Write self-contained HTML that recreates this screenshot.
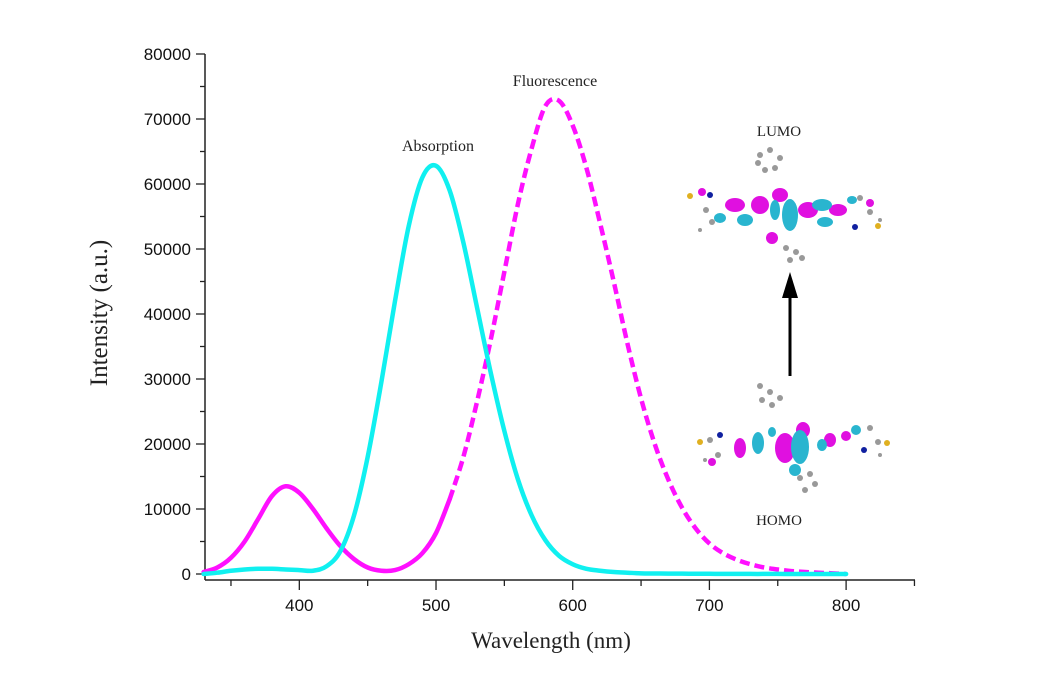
<!DOCTYPE html>
<html><head><meta charset="utf-8"><style>
html,body{margin:0;padding:0;background:#fff;}
svg{display:block;}
.tick{font-family:"Liberation Sans",sans-serif;font-size:17px;fill:#111;}
.ser{font-family:"Liberation Serif",serif;fill:#222;}
</style></head><body>
<svg id="chart" width="1044" height="685" viewBox="0 0 1044 685" xmlns="http://www.w3.org/2000/svg">
<g id="axes"></g>
<g id="series"></g>
<text class="ser" x="438" y="151" font-size="16" text-anchor="middle">Absorption</text>
<text class="ser" x="555" y="86" font-size="16" text-anchor="middle">Fluorescence</text>
<text class="ser" x="0" y="0" font-size="25" text-anchor="middle" transform="translate(107,313) rotate(-90)">Intensity (a.u.)</text>
<text class="ser" x="551" y="648" font-size="23" text-anchor="middle">Wavelength (nm)</text>
<g id="inset">
<text class="ser" x="779" y="136" font-size="15" text-anchor="middle">LUMO</text>
<text class="ser" x="779" y="525" font-size="15" text-anchor="middle">HOMO</text>
<g>
<g fill="#999"><circle cx="760" cy="155" r="3"/><circle cx="770" cy="150" r="3"/><circle cx="780" cy="158" r="3"/><circle cx="775" cy="168" r="3"/><circle cx="765" cy="170" r="3"/><circle cx="758" cy="163" r="3"/>
<circle cx="786" cy="248" r="3"/><circle cx="796" cy="252" r="3"/><circle cx="802" cy="258" r="3"/><circle cx="790" cy="260" r="3"/><circle cx="706" cy="210" r="3"/><circle cx="712" cy="222" r="3"/><circle cx="860" cy="198" r="3"/><circle cx="870" cy="212" r="3"/><circle cx="700" cy="230" r="2"/><circle cx="880" cy="220" r="2"/></g>
<g fill="#e010e0"><ellipse cx="735" cy="205" rx="10" ry="7"/><ellipse cx="760" cy="205" rx="9" ry="9"/><ellipse cx="780" cy="195" rx="8" ry="7"/><ellipse cx="808" cy="210" rx="10" ry="8"/><ellipse cx="838" cy="210" rx="9" ry="6"/><ellipse cx="772" cy="238" rx="6" ry="6"/><ellipse cx="702" cy="192" rx="4" ry="4"/><ellipse cx="870" cy="203" rx="4" ry="4"/></g>
<g fill="#29b5cf"><ellipse cx="745" cy="220" rx="8" ry="6"/><ellipse cx="790" cy="215" rx="8" ry="16"/><ellipse cx="775" cy="210" rx="5" ry="10"/><ellipse cx="822" cy="205" rx="10" ry="6"/><ellipse cx="825" cy="222" rx="8" ry="5"/><ellipse cx="720" cy="218" rx="6" ry="5"/><ellipse cx="852" cy="200" rx="5" ry="4"/></g>
<circle cx="690" cy="196" r="3" fill="#e0b020"/><circle cx="878" cy="226" r="3" fill="#e0b020"/><circle cx="710" cy="195" r="3" fill="#1020a0"/><circle cx="855" cy="227" r="3" fill="#1020a0"/>
</g>
<g>
<g fill="#999"><circle cx="760" cy="386" r="3"/><circle cx="770" cy="392" r="3"/><circle cx="780" cy="398" r="3"/><circle cx="772" cy="405" r="3"/><circle cx="762" cy="400" r="3"/>
<circle cx="800" cy="478" r="3"/><circle cx="810" cy="474" r="3"/><circle cx="815" cy="484" r="3"/><circle cx="805" cy="490" r="3"/><circle cx="710" cy="440" r="3"/><circle cx="718" cy="455" r="3"/><circle cx="870" cy="428" r="3"/><circle cx="878" cy="442" r="3"/><circle cx="705" cy="460" r="2"/><circle cx="880" cy="455" r="2"/></g>
<g fill="#e010e0"><ellipse cx="740" cy="448" rx="6" ry="10"/><ellipse cx="785" cy="448" rx="10" ry="15"/><ellipse cx="803" cy="430" rx="7" ry="8"/><ellipse cx="830" cy="440" rx="6" ry="7"/><ellipse cx="846" cy="436" rx="5" ry="5"/><ellipse cx="712" cy="462" rx="4" ry="4"/></g>
<g fill="#29b5cf"><ellipse cx="758" cy="443" rx="6" ry="11"/><ellipse cx="800" cy="447" rx="9" ry="17"/><ellipse cx="795" cy="470" rx="6" ry="6"/><ellipse cx="822" cy="445" rx="5" ry="6"/><ellipse cx="856" cy="430" rx="5" ry="5"/><ellipse cx="772" cy="432" rx="4" ry="5"/></g>
<circle cx="700" cy="442" r="3" fill="#e0b020"/><circle cx="887" cy="443" r="3" fill="#e0b020"/><circle cx="720" cy="435" r="3" fill="#1020a0"/><circle cx="864" cy="450" r="3" fill="#1020a0"/>
</g>
<line x1="790" y1="376" x2="790" y2="295" stroke="#000" stroke-width="3"/>
<polygon points="782,298 798,298 790,272" fill="#000"/>
</g>
</svg>
<script>
const wavelengths=[330,340,350,360,370,380,390,400,410,420,430,440,450,460,470,480,490,500,510,520,530,540,550,560,570,580,590,600,610,620,630,640,650,660,670,680,690,700,710,720,730,740,750,760,770,780,790,800];
const absorption=[0,200,500,700,800,800,700,600,500,1200,3500,9000,18000,29500,42000,53500,61000,62800,59000,51000,41000,31000,22000,14500,9000,5200,2800,1500,800,500,300,200,100,80,60,50,40,30,20,20,10,10,10,0,0,0,0,0];
const fluorescence=[300,1000,2500,5000,8500,12000,13500,12500,10000,7000,4300,2300,1000,500,600,1500,3200,6300,11500,18000,26500,36000,46500,57000,65500,72000,72800,69000,62500,54000,45000,35500,27000,20000,14500,10200,7000,4700,3200,2200,1500,1000,700,450,300,200,100,0];
const xTicks=[400,500,600,700,800];
const yTicks=[0,10000,20000,30000,40000,50000,60000,70000,80000];
const NS='http://www.w3.org/2000/svg';
const X0=205,X1=915,XMIN=331,XMAX=850.4,Y0=574,YPX=65/10000,YBASE=580;
function xs(v){return X0+(v-XMIN)*(X1-X0)/(XMAX-XMIN);}
function ys(v){return Y0-v*YPX;}
function mk(tag,attrs,parent){const e=document.createElementNS(NS,tag);for(const k in attrs)e.setAttribute(k,attrs[k]);parent.appendChild(e);return e;}
const ax=document.getElementById('axes');
let l=mk('line',{x1:X0,y1:YBASE,x2:X1,y2:YBASE,stroke:'#222','stroke-width':1.5},ax);


l=mk('line',{x1:X0,y1:YBASE,x2:X0,y2:ys(80000),stroke:'#222','stroke-width':1.5},ax);


for(let v=350;v<=850;v+=50){const x=xs(v);const major=xTicks.includes(v);
 const t=mk('line',{x1:x,y1:YBASE,x2:x,y2:YBASE+(major?10:6),stroke:'#222','stroke-width':1.3},ax);
 
 }
xTicks.forEach(v=>{const t=mk('text',{x:xs(v),y:YBASE+31,'text-anchor':'middle',class:'tick'},ax);t.textContent=v;
 
 });
for(let v=0;v<=80000;v+=5000){const y=ys(v);const major=v%10000===0;
 const t=mk('line',{x1:X0,y1:y,x2:X0-(major?9:5),y2:y,stroke:'#222','stroke-width':1.3},ax);
 
 }
yTicks.forEach(v=>{const t=mk('text',{x:X0-14,y:ys(v)+6,'text-anchor':'end',class:'tick'},ax);t.textContent=v;
 
 });
function pathFrom(xv,yv){const p=xv.map((w,i)=>[xs(w),ys(yv[i])]);let d='M'+p[0][0]+','+p[0][1];
 for(let i=0;i<p.length-1;i++){const a=p[Math.max(0,i-1)],b=p[i],c=p[i+1],e=p[Math.min(p.length-1,i+2)];
  d+=' C'+(b[0]+(c[0]-a[0])/6)+','+(b[1]+(c[1]-a[1])/6)+' '+(c[0]-(e[0]-b[0])/6)+','+(c[1]-(e[1]-b[1])/6)+' '+c[0]+','+c[1];}
 return d;}
const sg=document.getElementById('series');
const split=wavelengths.indexOf(510);
let p=mk('path',{d:pathFrom(wavelengths.slice(0,split+1),fluorescence.slice(0,split+1)),fill:'none',stroke:'#ff10ff','stroke-width':4.5,'stroke-linecap':'round'},sg);


p=mk('path',{d:pathFrom(wavelengths.slice(split),fluorescence.slice(split)),fill:'none',stroke:'#ff10ff','stroke-width':4.5,'stroke-dasharray':'10,5'},sg);


p=mk('path',{d:pathFrom(wavelengths,absorption),fill:'none',stroke:'#10f0f0','stroke-width':4.5,'stroke-linecap':'round'},sg);


</script>
</body></html>
